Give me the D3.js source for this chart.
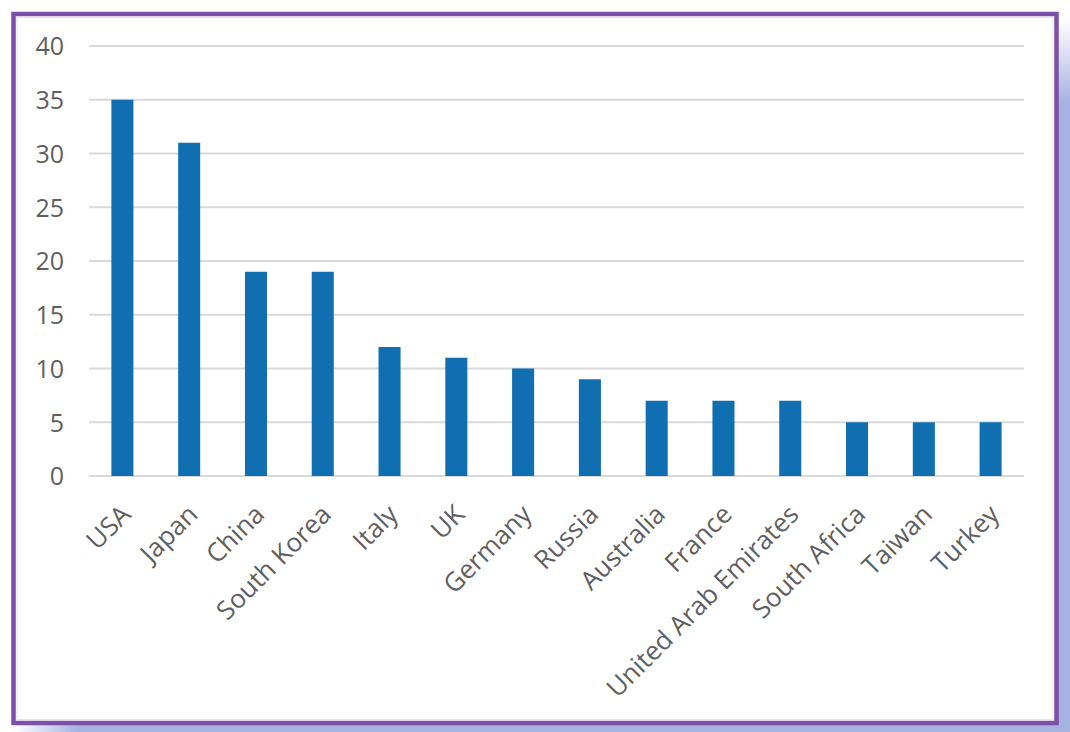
<!DOCTYPE html>
<html><head><meta charset="utf-8">
<script src="https://cdn.jsdelivr.net/npm/d3@7"></script>
<style>
html,body{margin:0;padding:0;background:#fff;}
svg{display:block;}
</style></head>
<body>
<svg id="c" width="1070" height="732"></svg>
<script>
const categories = ["USA","Japan","China","South Korea","Italy","UK","Germany","Russia","Australia","France","United Arab Emirates","South Africa","Taiwan","Turkey"];
const values = [35,31,19,19,12,11,10,9,7,7,7,5,5,5];
const yTicks = [0,5,10,15,20,25,30,35,40];

const svg = d3.select("#c");
const defs = svg.append("defs");
const gr = defs.append("linearGradient").attr("id","shR").attr("x1",0).attr("y1",0).attr("x2",0).attr("y2",1);
gr.append("stop").attr("offset","0").attr("stop-color","#a6b2e0").attr("stop-opacity",0);
gr.append("stop").attr("offset","0.12").attr("stop-color","#a6b2e0").attr("stop-opacity",1);
gr.append("stop").attr("offset","1").attr("stop-color","#a6b2e0").attr("stop-opacity",1);
const gb = defs.append("linearGradient").attr("id","shB").attr("x1",0).attr("y1",0).attr("x2",1).attr("y2",0);
gb.append("stop").attr("offset","0").attr("stop-color","#a6b2e0").attr("stop-opacity",0);
gb.append("stop").attr("offset","0.06").attr("stop-color","#a6b2e0").attr("stop-opacity",1);
gb.append("stop").attr("offset","1").attr("stop-color","#a6b2e0").attr("stop-opacity",1);

// shadow
svg.append("rect").attr("x",1058).attr("y",18).attr("width",12).attr("height",714).attr("fill","url(#shR)");
svg.append("rect").attr("x",14).attr("y",724).attr("width",1056).attr("height",8).attr("fill","url(#shB)");
// frame
svg.append("rect").attr("x",13.5).attr("y",14).attr("width",1043).attr("height",709)
  .attr("fill","#fff").attr("stroke","#7e4fa6").attr("stroke-width",4.5);
svg.append("rect").attr("x",17).attr("y",17.5).attr("width",1036).attr("height",702)
  .attr("fill","none").attr("stroke","#e4e4e4").attr("stroke-width",1);

const x = d3.scaleBand().domain(categories).range([89,1024]).paddingInner(0.67).paddingOuter(0.335);
const y = d3.scaleLinear().domain([0,40]).range([476,46]);

// gridlines
svg.append("g").selectAll("line").data(yTicks).join("line")
  .attr("x1",89).attr("x2",1024).attr("y1",d=>y(d)).attr("y2",d=>y(d))
  .attr("stroke","#d9d9d9").attr("stroke-width",2);

// y axis labels
const yAxis = d3.axisLeft(y).tickValues(yTicks).tickSize(0).tickPadding(0);
const ya = svg.append("g").attr("transform","translate(64,0)").call(yAxis);
ya.select(".domain").remove();
ya.selectAll("text").attr("font-family","'Open Sans', sans-serif").attr("font-size",25).attr("fill","#5f5f5f").attr("dy","0.35em");

// bars
svg.append("g").selectAll("rect").data(categories).join("rect")
  .attr("x",d=>x(d)).attr("width",x.bandwidth())
  .attr("y",(d,i)=>y(values[i])).attr("height",(d,i)=>y(0)-y(values[i]))
  .attr("fill","#0f6fb0");

// x labels
const xAxis = d3.axisBottom(x).tickSize(0).tickPadding(0);
const xa = svg.append("g").attr("transform","translate(0,476)").call(xAxis);
xa.select(".domain").remove();
xa.selectAll("text")
  .attr("font-family","'Open Sans', sans-serif").attr("font-size",26).attr("fill","#5f5f5f")
  .attr("text-anchor","end").attr("dy",0).attr("y",0)
  .attr("transform","translate(10,40) rotate(-45)");
</script>
</body></html>
